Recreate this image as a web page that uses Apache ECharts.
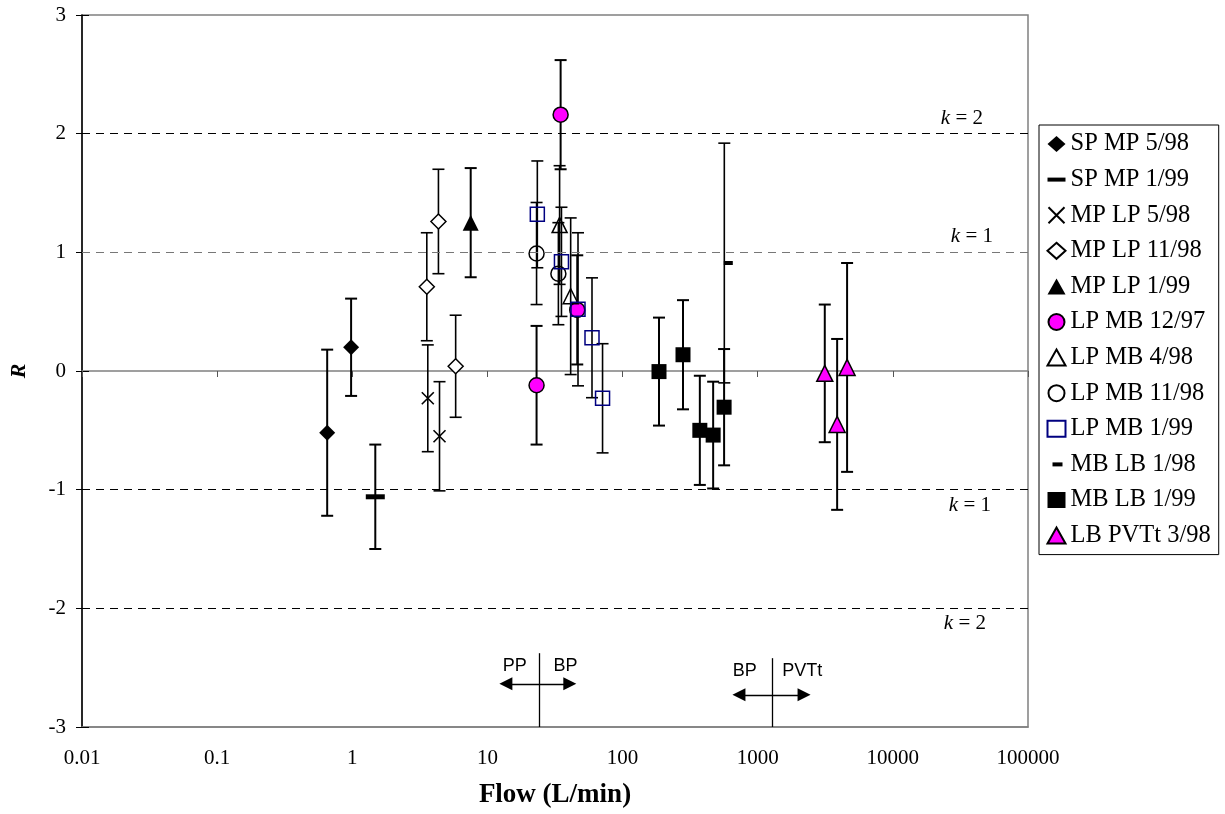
<!DOCTYPE html>
<html><head><meta charset="utf-8">
<script src="https://cdn.jsdelivr.net/npm/echarts@6/dist/echarts.min.js"></script>
<style>html,body{margin:0;padding:0;background:#fff}#c{width:1225px;height:814px}</style>
</head><body><div id="c"></div>
<script>
// ---------- data (flow L/min, R, uncertainty) ----------
const xTickLabels = ['0.01','0.1','1','10','100','1000','10000','100000'];
const yTickLabels = ['-3','-2','-1','0','1','2','3'];
const seriesNames = ['SP MP 5/98','SP MP 1/99','MP LP 5/98','MP LP 11/98','MP LP 1/99','LP MB 12/97','LP MB 4/98','LP MB 11/98','LP MB 1/99','MB LB 1/98','MB LB 1/99','LB PVTt 3/98'];

const SP_MP_5_98  = [[0.652,-0.52,0.70],[0.98,0.20,0.41]];
const SP_MP_1_99  = [[1.48,-1.06,0.44]];
const MP_LP_5_98  = [[3.62,-0.23,0.45],[4.42,-0.55,0.46]];
const MP_LP_11_98 = [[3.56,0.71,0.455],[4.34,1.26,0.44],[5.82,0.04,0.43]];
const MP_LP_1_99  = [[7.52,1.25,0.46]];
const LP_MB_12_97 = [[34.8,2.16,0.46],[23.1,-0.12,0.50],[46.2,0.515,0.46]];
const LP_MB_4_98  = [[34.2,1.23,0.50],[41.3,0.63,0.66]];
const LP_MB_11_98 = [[23.1,0.99,0.43],[33.5,0.82,0.43]];
const LP_MB_1_99  = [[23.4,1.32,0.45],[35.3,0.92,0.46],[46.8,0.52,0.645],[59.4,0.28,0.505],[71.1,-0.23,0.46]];
const MB_LB_1_98  = [[566,0.91,1.01]];
const MB_LB_1_99  = [[186,-0.005,0.455],[280,0.137,0.46],[373,-0.50,0.46],[468,-0.54,0.45],[564,-0.305,0.49]];
const LB_PVTt_3_98 = [[3135,-0.02,0.58],[3870,-0.45,0.72],[4585,0.03,0.88]];

// reference lines (R value, k label)
const kLines = [[2,'2'],[1,'1'],[-1,'1'],[-2,'2']];
// regime annotations
const annotDividers = [[24.2,-2.378,-3.0],[1282,-2.42,-3.0]];      // flow, R top, R bottom
const annotArrows = [[13.7,40.7,-2.636],[726,2203,-2.729]];        // flow left, flow right, R
const annotTexts = [['PP',15.9,-2.485],['BP',37.8,-2.485],['BP',802,-2.527],['PVTt',2138,-2.527]];

// ---------- styles ----------
const SERIF = '"Liberation Serif","Times New Roman",serif';
const SANS = '"Liberation Sans",Arial,sans-serif';
const DATA = [SP_MP_5_98,SP_MP_1_99,MP_LP_5_98,MP_LP_11_98,MP_LP_1_99,LP_MB_12_97,LP_MB_4_98,LP_MB_11_98,LP_MB_1_99,MB_LB_1_98,MB_LB_1_99,LB_PVTt_3_98];
const STYLES = [
  {symbol:'diamond', size:16, fill:'#000', stroke:'#000', bw:0, lw:2},
  {symbol:'rect', size:[19,5], fill:'#000', stroke:'#000', bw:0, lw:2, icon:'path://M0,0M18,16M0,6H18V10H0Z'},
  {symbol:'path://M0,0L10,10M10,0L0,10', size:12, fill:'none', stroke:'#000', bw:1.6, lw:1.6},
  {symbol:'diamond', size:15, fill:'#fff', stroke:'#000', bw:1.5, lw:1.6},
  {symbol:'triangle', size:16, fill:'#000', stroke:'#000', bw:0, lw:2},
  {symbol:'circle', size:15, fill:'#FF00FF', stroke:'#000', bw:1.5, lw:2},
  {symbol:'triangle', size:15, fill:'none', stroke:'#000', bw:1.5, lw:1.6},
  {symbol:'circle', size:15, fill:'none', stroke:'#000', bw:1.5, lw:1.6},
  {symbol:'rect', size:14, fill:'none', stroke:'#000080', bw:1.5, lw:1.6},
  {symbol:'rect', size:[9,4], fill:'#000', stroke:'#000', bw:0, lw:1.6, offset:[4,0], icon:'path://M0,0M18,16M5,6H15V10H5Z'},
  {symbol:'rect', size:15, fill:'#000', stroke:'#000', bw:0, lw:2},
  {symbol:'triangle', size:16, fill:'#FF00FF', stroke:'#000', bw:1.5, lw:2}
];

function errRenderer(lw){
  return function(params, api){
    const x = api.value(0), y = api.value(1), e = api.value(2);
    const t = api.coord([x, y + e]), b = api.coord([x, y - e]);
    const hw = 6, st = {stroke:'#000', lineWidth:lw};
    return {type:'group', children:[
      {type:'line', shape:{x1:t[0],y1:t[1],x2:b[0],y2:b[1]}, style:st},
      {type:'line', shape:{x1:t[0]-hw,y1:t[1],x2:t[0]+hw,y2:t[1]}, style:st},
      {type:'line', shape:{x1:b[0]-hw,y1:b[1],x2:b[0]+hw,y2:b[1]}, style:st}
    ]};
  };
}

const series = [];
DATA.forEach((d,i)=>{
  series.push({type:'custom', name:seriesNames[i]+' err', xAxisIndex:0, yAxisIndex:0,
    dimensions:['x','y','e'], encode:{x:0,y:1}, data:d, z:2, silent:true, clip:false,
    renderItem: errRenderer(STYLES[i].lw)});
});
DATA.forEach((d,i)=>{
  const s = STYLES[i];
  series.push({type:'scatter', name:seriesNames[i], xAxisIndex:0, yAxisIndex:0,
    data:d.map(p=>[p[0],p[1]]), symbol:s.symbol, symbolSize:s.size, symbolOffset:s.offset||[0,0],
    itemStyle:{color:s.fill, borderColor:s.stroke, borderWidth:s.bw, opacity:1},
    z:3, silent:true, animation:false});
});
// helper series for reference lines & annotations
series.push({type:'scatter', name:'helper', data:[], clip:false, silent:true, z:1,
  markLine:{silent:true, symbol:['none','none'], animation:false,
    data: kLines.map(k=>({yAxis:k[0],
      lineStyle:{color: k[0]===1 ? '#777' : '#000', type:[8,6], width:1},
      label:{show:true, formatter:'{k|k} = '+k[1], position: k[0]>0 ? 'insideEndTop':'insideEndBottom',
        distance: k[0]>0 ? [ (k[0]===2?45:35), 5] : [ (k[0]===-1?37:42), 5],
        fontFamily:SERIF, fontSize:21, color:'#000',
        rich:{k:{fontFamily:SERIF, fontSize:21, fontStyle:'italic', color:'#000'}}}}))
  }
});
series.push({type:'scatter', name:'annot', data:[], clip:false, silent:true, z:4,
  markLine:{silent:true, animation:false, symbol:['none','none'],
    lineStyle:{color:'#000', type:'solid', width:1.3}, label:{show:false},
    data: annotDividers.map(a=>[{coord:[a[0],a[1]]},{coord:[a[0],a[2]]}])
      .concat(annotArrows.map(a=>[{coord:[a[0],a[2]], symbol:'triangle', symbolSize:[13,13]},
                                 {coord:[a[1],a[2]], symbol:'triangle', symbolSize:[13,13]}]))
  },
  markPoint:{silent:true, animation:false, symbol:'circle', symbolSize:0,
    label:{show:true, position:'inside', formatter:p=>p.name, fontFamily:SANS, fontSize:18, color:'#000'},
    data: annotTexts.map(t=>({name:t[0], coord:[t[1],t[2]]}))
  }
});

const chart = echarts.init(document.getElementById('c'), null, {renderer:'canvas'});
chart.setOption({
  animation:false,
  backgroundColor:'#fff',
  grid:{left:79, top:15, right:197, bottom:86, show:true, borderColor:'#808080', borderWidth:1.5, backgroundColor:'transparent'},
  legend:{
    data: seriesNames.map((n,i)=> STYLES[i].icon ? {name:n, icon:STYLES[i].icon} : {name:n}),
    orient:'vertical', left:1039, top:125, itemWidth:18, itemHeight:16, itemGap:9.6,
    padding:[6,8,6,6], borderColor:'#000', borderWidth:1, backgroundColor:'#fff',
    selectedMode:false,
    textStyle:{fontFamily:SERIF, fontSize:24.5, lineHeight:26, color:'#000'}
  },
  xAxis:[
    {type:'log', logBase:10, min:0.01, max:100000, position:'bottom',
      axisLine:{show:true, onZero:true, lineStyle:{color:'#808080', width:1.5}},
      axisTick:{show:true, inside:false, length:6, lineStyle:{color:'#555', width:1}},
      axisLabel:{show:false}, splitLine:{show:false}},
    {type:'log', logBase:10, min:0.01, max:100000, position:'bottom',
      axisLine:{show:true, onZero:false, lineStyle:{color:'#808080', width:1.5}},
      axisTick:{show:false}, splitLine:{show:false},
      axisLabel:{show:true, margin:21, fontFamily:SERIF, fontSize:21, color:'#000',
        formatter:v=>xTickLabels[Math.round(Math.log10(v))+2]},
      name:'Flow (L/min)', nameLocation:'middle', nameGap:55,
      nameTextStyle:{fontFamily:SERIF, fontSize:27, fontWeight:'bold', color:'#000'}}
  ],
  yAxis:[
    {type:'value', min:-3, max:3, interval:1, position:'left',
      axisLine:{show:true, onZero:false, lineStyle:{color:'#000', width:1.5}},
      axisTick:{show:true, inside:false, length:6, lineStyle:{color:'#000', width:1}},
      splitLine:{show:false},
      axisLabel:{margin:16, fontFamily:SERIF, fontSize:21, color:'#000',
        formatter:v=>yTickLabels[Math.round(v)+3]},
      name:'R', nameLocation:'middle', nameGap:52, nameRotate:90,
      nameTextStyle:{fontFamily:SERIF, fontSize:22, fontWeight:'bold', fontStyle:'italic', color:'#000'}},
    {type:'value', min:-3, max:3, interval:1, position:'left',
      axisLine:{show:false, onZero:false},
      axisTick:{show:true, inside:true, length:7, lineStyle:{color:'#000', width:1}},
      axisLabel:{show:false}, splitLine:{show:false}}
  ],
  series: series
});
</script>
</body></html>
